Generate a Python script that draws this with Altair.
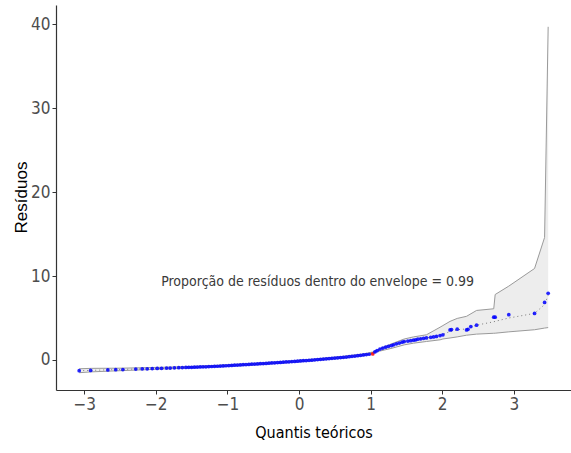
import altair as alt
import pandas as pd

# Quantis teóricos e resíduos ordenados
quantis = [
    -3.07, -2.91, -2.67, -2.56, -2.46, -2.28, -2.19, -2.12, -2.05, -1.98,
    -1.92, -1.85, -1.80, -1.74, -1.68, -1.63, -1.58, -1.54, -1.50, -1.46,
    -1.42, -1.38, -1.34, -1.30, -1.26, -1.22, -1.18, -1.14, -1.10, -1.06,
    -1.02, -0.98, -0.94, -0.90, -0.86, -0.82, -0.78, -0.74, -0.70, -0.66,
    -0.62, -0.58, -0.54, -0.50, -0.46, -0.42, -0.38, -0.34, -0.30, -0.26,
    -0.22, -0.18, -0.14, -0.10, -0.06, -0.02, 0.02, 0.06, 0.10, 0.14,
    0.18, 0.22, 0.26, 0.30, 0.34, 0.38, 0.42, 0.46, 0.50, 0.54,
    0.58, 0.62, 0.66, 0.70, 0.74, 0.78, 0.82, 0.86, 0.90, 0.94,
    0.98, 1.03, 1.06, 1.09, 1.13, 1.17, 1.21, 1.25, 1.29, 1.32,
    1.36, 1.40, 1.44, 1.47, 1.52, 1.56, 1.60, 1.63, 1.66, 1.70,
    1.74, 1.78, 1.84, 1.88, 1.92, 1.97, 2.01, 2.11, 2.13, 2.21,
    2.34, 2.36, 2.40, 2.48, 2.72, 2.74, 2.93, 3.29, 3.43, 3.48,
]
residuos = [
    -1.28, -1.25, -1.19, -1.16, -1.14, -1.09, -1.06, -1.05, -1.03, -1.01,
    -0.99, -0.97, -0.96, -0.94, -0.92, -0.91, -0.89, -0.88, -0.87, -0.86,
    -0.85, -0.83, -0.82, -0.81, -0.79, -0.78, -0.76, -0.75, -0.73, -0.71,
    -0.69, -0.67, -0.65, -0.63, -0.61, -0.59, -0.57, -0.55, -0.53, -0.51,
    -0.49, -0.47, -0.45, -0.43, -0.41, -0.39, -0.36, -0.34, -0.31, -0.29,
    -0.27, -0.24, -0.22, -0.19, -0.17, -0.14, -0.12, -0.09, -0.07, -0.04,
    -0.02, 0.01, 0.04, 0.07, 0.10, 0.13, 0.16, 0.19, 0.22, 0.25,
    0.28, 0.32, 0.35, 0.39, 0.43, 0.47, 0.51, 0.56, 0.60, 0.64,
    0.68, 0.72, 0.95, 1.10, 1.30, 1.42, 1.52, 1.62, 1.72, 1.80,
    1.92, 2.02, 2.12, 2.19, 2.25, 2.30, 2.36, 2.40, 2.47, 2.52,
    2.58, 2.62, 2.70, 2.75, 2.80, 2.90, 3.00, 3.58, 3.62, 3.67,
    3.58, 3.65, 3.98, 4.15, 5.10, 5.10, 5.40, 5.55, 6.85, 7.95,
]
# índice do resíduo fora do envelope
fora = [81]

# Envelope simulado: limites e mediana
q_env = [-3.07, -2.90, -2.50, -2.20, -1.80, -1.40, -1.00, -0.60, -0.20, 0.20,
         0.60, 0.90, 1.03, 1.10, 1.20, 1.30, 1.47, 1.60, 1.78, 1.97,
         2.01, 2.11, 2.21, 2.34, 2.48, 2.72, 2.74, 2.93, 3.29, 3.43, 3.48]
env_inf = [-1.52, -1.42, -1.28, -1.18, -1.05, -0.92, -0.77, -0.58, -0.36, -0.10,
           0.20, 0.50, 0.80, 1.00, 1.20, 1.40, 1.80, 2.00, 2.20, 2.40,
           2.50, 2.62, 2.75, 2.95, 3.08, 3.18, 3.19, 3.35, 3.60, 3.80, 3.86]
env_med = [-1.28, -1.24, -1.13, -1.07, -0.96, -0.84, -0.68, -0.48, -0.26, 0.00,
           0.30, 0.60, 0.85, 1.10, 1.45, 1.75, 2.20, 2.38, 2.62, 2.95,
           3.05, 3.40, 3.60, 3.70, 4.15, 4.55, 4.60, 5.00, 5.55, 6.60, 7.70]
env_sup = [-1.05, -1.00, -0.98, -0.93, -0.85, -0.74, -0.57, -0.38, -0.16, 0.10,
           0.42, 0.72, 0.95, 1.20, 1.60, 1.95, 2.50, 2.75, 3.00, 3.90,
           4.10, 4.60, 4.95, 5.20, 5.90, 6.10, 7.80, 8.80, 10.90, 14.60, 39.70]

texto = "Proporção de resíduos dentro do envelope = 0.99"

pts = pd.DataFrame({"q": quantis, "r": residuos})
pts["cor"] = ["#ff0000" if i in fora else "#0000ff" for i in range(len(pts))]
env = pd.DataFrame({"q": q_env, "inf": env_inf, "med": env_med, "sup": env_sup})

FONTE = "DejaVu Sans Condensed, Liberation Sans, sans-serif"

x = alt.X("q:Q", scale=alt.Scale(domain=[-3.394, 3.799], nice=False, zero=False),
          axis=alt.Axis(title="Quantis teóricos", values=[-3, -2, -1, 0, 1, 2, 3],
                        format="d", titleY=47, titleBaseline="alphabetic"))
yscale = alt.Scale(domain=[-3.58, 42.3], nice=False, zero=False)

faixa = alt.Chart(env).mark_area(color="#ededed", opacity=1).encode(
    x=x,
    y=alt.Y("inf:Q", scale=yscale,
            axis=alt.Axis(title="Resíduos", values=[0, 10, 20, 30, 40], format="d",
                          titleX=-26, titleY=192, titleFont="Liberation Sans, Arial, sans-serif",
                          titleFontSize=17, titleBaseline="bottom")),
    y2="sup:Q",
)
borda_inf = alt.Chart(env).mark_line(color="#9a9a9a", strokeWidth=1).encode(x="q:Q", y="inf:Q")
borda_sup = alt.Chart(env).mark_line(color="#9a9a9a", strokeWidth=1).encode(x="q:Q", y="sup:Q")
mediana = alt.Chart(env).mark_line(color="#7a7a7a", strokeWidth=1, strokeDash=[1, 3]).encode(
    x="q:Q", y="med:Q")

pontos = alt.Chart(pts).mark_circle(size=14, opacity=0.85).encode(
    x="q:Q", y="r:Q", color=alt.Color("cor:N", scale=None))

rotulo = alt.Chart(pd.DataFrame({"q": [0.26], "r": [8.8], "t": [texto]})).mark_text(
    font=FONTE, fontSize=14, color="#3a3a3a", align="center", baseline="alphabetic"
).encode(x="q:Q", y="r:Q", text="t:N")

chart = alt.layer(faixa, borda_inf, borda_sup, mediana, pontos, rotulo).properties(
    width=515, height=385,
    autosize=alt.AutoSizeParams(type="none"),
    padding={"left": 56, "top": 5, "right": 0, "bottom": 63},
).configure_view(stroke=None).configure_axis(
    grid=False,
    domainColor="#333333", domainWidth=1.2,
    tickColor="#333333", tickSize=4,
    labelFont=FONTE, labelFontSize=17, labelColor="#4d4d4d", labelPadding=2,
    titleFont=FONTE, titleFontSize=16, titleColor="#000000", titleFontWeight="normal",
)

chart.save("out.html", embed_options={"renderer": "svg", "actions": False})
